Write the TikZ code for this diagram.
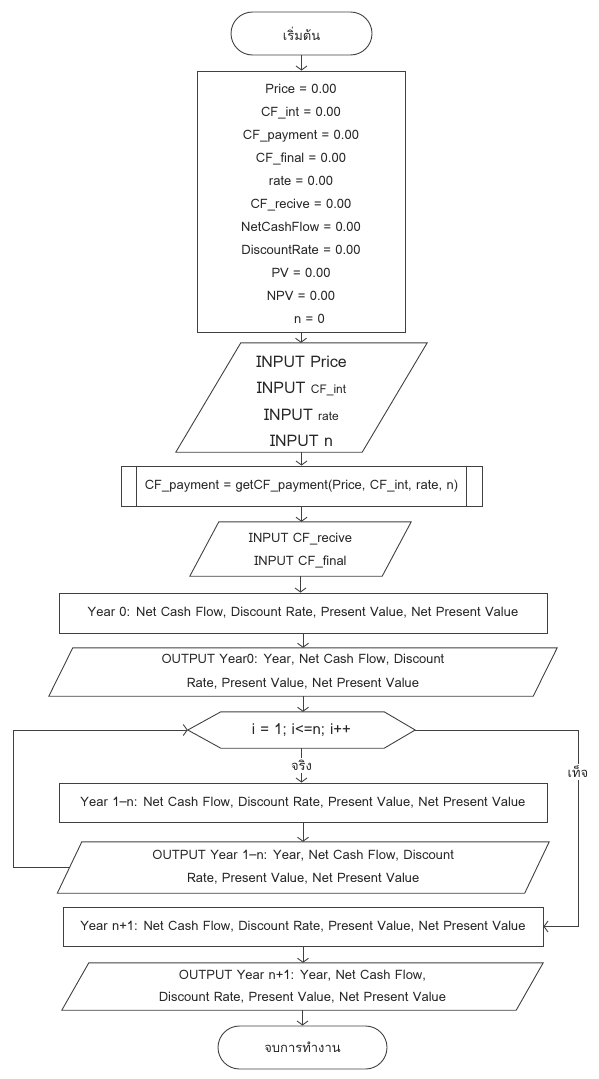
\documentclass[tikz,border=0pt]{standalone}
\usepackage{fontspec}
\setmainfont{Loma}[Script=Thai]
\usetikzlibrary{arrows.meta}
\definecolor{ln}{HTML}{404040}
\definecolor{tx}{HTML}{262626}
\begin{document}
\begin{tikzpicture}[x=1pt,y=-1pt,
  every node/.style={text=tx, font=\fontsize{13}{23}\selectfont, inner sep=0pt, align=center},
  shp/.style={draw=ln, line width=0.9pt},
  arr/.style={draw=ln, line width=0.9pt, -{Straight Barb[length=4pt,width=11pt]}},
  box/.style={shp, rectangle},
  blank/.style={rectangle},
  lbl/.style={fill=white, inner sep=2pt}
]
\useasboundingbox (0,0) rectangle (598,1079);

% start
\node[shp, rounded corners=21.5pt, minimum width=141pt, minimum height=43pt] (start) at (301.5,33.5) {เริ่มต้น};

% init
\node[box, minimum width=208pt, minimum height=261pt] (init) at (301,201.5) {};
\node (initt) at ([yshift=-2.5pt]init.center)
 {Price = 0.00\\CF\_int = 0.00\\CF\_payment = 0.00\\CF\_final = 0.00\\rate = 0.00\\CF\_recive = 0.00\\NetCashFlow = 0.00\\DiscountRate = 0.00\\PV = 0.00\\NPV = 0.00\\\hspace*{17pt}n = 0};

% input 1
\node[blank, minimum width=251pt, minimum height=109pt] (in1) at (301.5,397.5) {};
\node[font=\fontsize{16}{26.5}\selectfont] (in1t) at ([yshift=-4pt]in1.center)
 {INPUT Price\\INPUT {\fontsize{12}{26.5}\selectfont CF\_int}\\INPUT {\fontsize{12}{26.5}\selectfont rate}\\INPUT n};
\draw[shp] ([xshift=65pt]in1.north west) -- (in1.north east) -- ([xshift=-65pt]in1.south east) -- (in1.south west) -- cycle;

% subroutine
\node[box, minimum width=361pt, minimum height=40pt] (sub) at (301.5,486) {CF\_payment = getCF\_payment(Price, CF\_int, rate, n)};
\draw[shp] ([xshift=16pt]sub.north west) -- ([xshift=16pt]sub.south west);
\draw[shp] ([xshift=-16pt]sub.north east) -- ([xshift=-16pt]sub.south east);

% input 2
\node[blank, minimum width=221pt, minimum height=54pt] (in2) at (300.5,549) {};
\node (in2t) at ([yshift=-2pt]in2.center) {INPUT CF\_recive\\INPUT CF\_final};
\draw[shp] ([xshift=29pt]in2.north west) -- (in2.north east) -- ([xshift=-29pt]in2.south east) -- (in2.south west) -- cycle;

% year 0
\node[box, minimum width=488pt, minimum height=40pt] (y0) at (303,613) {Year 0: Net Cash Flow, Discount Rate, Present Value, Net Present Value};

% output year 0
\node[blank, minimum width=508pt, minimum height=48pt, font=\fontsize{13}{24}\selectfont] (o0) at (303,672) {OUTPUT Year0: Year, Net Cash Flow, Discount\\Rate, Present Value, Net Present Value};
\draw[shp] ([xshift=24pt]o0.north west) -- (o0.north east) -- ([xshift=-24pt]o0.south east) -- (o0.south west) -- cycle;

% loop hexagon
\node[blank, minimum width=227pt, minimum height=36pt, font=\fontsize{15}{20}\selectfont] (loop) at (301.5,730) {i = 1; i<=n; i++};
\draw[shp] (loop.west) -- ([xshift=33pt]loop.north west) -- ([xshift=-31pt]loop.north east) -- (loop.east) -- ([xshift=-31pt]loop.south east) -- ([xshift=33pt]loop.south west) -- cycle;

% year 1-n
\node[box, minimum width=488pt, minimum height=39pt] (y1n) at (303,802.5) {Year 1--n: Net Cash Flow, Discount Rate, Present Value, Net Present Value};

% output year 1-n
\node[blank, minimum width=491.5pt, minimum height=51pt, font=\fontsize{13}{23}\selectfont] (o1n) at (303.25,867.5) {OUTPUT Year 1--n: Year, Net Cash Flow, Discount\\Rate, Present Value, Net Present Value};
\draw[shp] ([xshift=24.5pt]o1n.north west) -- (o1n.north east) -- ([xshift=-24.5pt]o1n.south east) -- (o1n.south west) -- cycle;
\coordinate (o1nL) at ([xshift=12.25pt]o1n.west);

% year n+1
\node[box, minimum width=480pt, minimum height=39pt] (yn1) at (303,926.5) {Year n+1: Net Cash Flow, Discount Rate, Present Value, Net Present Value};

% output year n+1
\node[blank, minimum width=481pt, minimum height=47pt, font=\fontsize{13}{22}\selectfont] (on1) at (302.5,986.5) {OUTPUT Year n+1: Year, Net Cash Flow,\\Discount Rate, Present Value, Net Present Value};
\draw[shp] ([xshift=27pt]on1.north west) -- (on1.north east) -- ([xshift=-27pt]on1.south east) -- (on1.south west) -- cycle;

% end
\node[shp, rounded corners=21.5pt, minimum width=169pt, minimum height=43pt] (stop) at (302.5,1047.5) {จบการทำงาน};

\coordinate (lx) at (13.5,0);
\coordinate (rx) at (578,0);
\coordinate (fl) at (578,772);

% connectors
\draw[arr] (start.south) -- (start.south |- init.north);
\draw[arr] (init.south) -- (init.south |- in1.north);
\draw[arr] (in1.south) -- (in1.south |- sub.north);
\draw[arr] (sub.south) -- (sub.south |- in2.north);
\draw[arr] (in2.south) -- (in2.south |- y0.north);
\draw[arr] (y0.south) -- (y0.south |- o0.north);
\draw[arr] (o0.south) -- (o0.south |- loop.north);
\draw[arr] (loop.south) -- node[lbl] (tl) {จริง} (loop.south |- y1n.north);
\draw[arr] (y1n.south) -- (y1n.south |- o1n.north);
\draw[arr] (o1nL) -- (o1nL -| lx) |- (loop.west);
\draw[arr] (loop.east) -- (loop.east -| rx) -- (rx |- yn1.east) -- (yn1.east);
\node[lbl] (fll) at (fl) {เท็จ};
\draw[arr] (yn1.south) -- (yn1.south |- on1.north);
\draw[arr] (on1.south) -- (on1.south |- stop.north);
\end{tikzpicture}
\end{document}
